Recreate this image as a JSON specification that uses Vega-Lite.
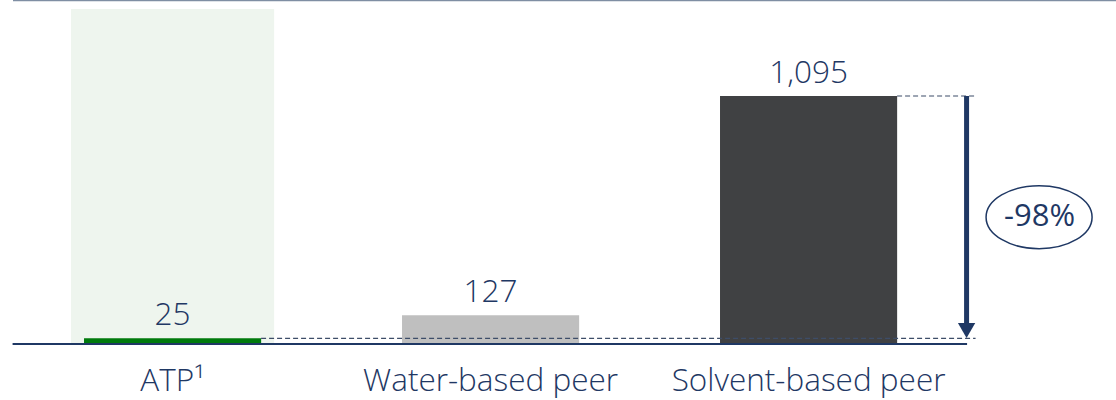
{
  "$schema": "https://vega.github.io/schema/vega-lite/v6.json",
  "width": 1103,
  "height": 335,
  "autosize": "none",
  "padding": {"left": 13, "top": 9, "right": 0, "bottom": 56},
  "background": "white",
  "config": {"view": {"stroke": null}, "font": "Open Sans"},
  "data": {
    "values": [
      {"category": "ATP¹", "value": 25, "label": "25"},
      {"category": "Water-based peer", "value": 127, "label": "127"},
      {"category": "Solvent-based peer", "value": 1095, "label": "1,095"}
    ]
  },
  "encoding": {
    "x": {
      "field": "category",
      "type": "nominal",
      "sort": null,
      "title": null,
      "scale": {
        "domain": ["ATP¹", "Water-based peer", "Solvent-based peer"],
        "paddingInner": 0.443,
        "paddingOuter": 0.4558,
        "align": 0.245
      },
      "axis": {
        "domain": false,
        "ticks": false,
        "labelAngle": 0,
        "labelFont": "Open Sans",
        "labelFontSize": 31.5,
        "labelFontWeight": 300,
        "labelColor": "#1f3864",
        "labelBaseline": "alphabetic",
        "labelPadding": 46,
        "labelLimit": 0
      }
    },
    "y": {
      "type": "quantitative",
      "scale": {"domain": [0, 1479], "nice": false, "zero": true},
      "axis": null
    }
  },
  "layer": [
    {
      "transform": [{"filter": "datum.category === 'ATP¹'"}],
      "mark": {"type": "bar", "color": "#eef5ee", "width": {"band": 1.147}},
      "encoding": {"y": {"datum": 1479}}
    },
    {
      "mark": {"type": "bar"},
      "encoding": {
        "y": {"field": "value"},
        "color": {
          "field": "category",
          "sort": null,
          "legend": null,
          "scale": {"range": ["#007a0c", "#bfbfbf", "#404143"]}
        }
      }
    },
    {
      "data": {"values": [{"yv": 25}]},
      "mark": {"type": "rule", "strokeWidth": 1.2, "color": "#3d4d68", "strokeDash": [5, 3], "xOffset": 88.5, "x2Offset": 167},
      "encoding": {
        "x": {"datum": "ATP¹"},
        "x2": {"datum": "Solvent-based peer"},
        "y": {"field": "yv", "type": "quantitative"}
      }
    },
    {
      "data": {"values": [{"yv": 0}]},
      "mark": {"type": "rule", "strokeWidth": 2, "color": "#1f3864", "xOffset": -160, "x2Offset": 158.5},
      "encoding": {
        "x": {"datum": "ATP¹"},
        "x2": {"datum": "Solvent-based peer"},
        "y": {"field": "yv", "type": "quantitative"}
      }
    },
    {
      "data": {"values": [{"yv": 1095}]},
      "mark": {"type": "rule", "strokeWidth": 1.2, "color": "#3d4d68", "strokeDash": [5, 3], "xOffset": 88.5, "x2Offset": 167},
      "encoding": {
        "x": {"datum": "Solvent-based peer"},
        "x2": {"datum": "Solvent-based peer"},
        "y": {"field": "yv", "type": "quantitative"}
      }
    },
    {
      "data": {"values": [{"yv": 1516}]},
      "mark": {"type": "rule", "strokeWidth": 1.5, "color": "#7f8ea3"},
      "encoding": {
        "x": {"value": 0},
        "x2": {"value": "width"},
        "y": {"field": "yv", "type": "quantitative"}
      }
    },
    {
      "data": {"values": [{"from": 1095, "to": 75}]},
      "mark": {"type": "rule", "strokeWidth": 5, "color": "#1f3864", "xOffset": 158},
      "encoding": {
        "x": {"datum": "Solvent-based peer"},
        "y": {"field": "from", "type": "quantitative"},
        "y2": {"field": "to"}
      }
    },
    {
      "data": {"values": [{"tip": 60}]},
      "mark": {"type": "point", "shape": "triangle-down", "size": 300, "filled": true, "opacity": 1, "color": "#1f3864", "xOffset": 158},
      "encoding": {
        "x": {"datum": "Solvent-based peer"},
        "y": {"field": "tip", "type": "quantitative"}
      }
    },
    {
      "mark": {"type": "text", "font": "Open Sans", "fontSize": 31.5, "fontWeight": 300, "color": "#1f3864", "baseline": "alphabetic", "dy": -13},
      "encoding": {
        "y": {"field": "value"},
        "text": {"field": "label"}
      }
    },
    {
      "data": {"values": [{"pos": 560, "text": "-98%"}]},
      "mark": {"type": "point", "shape": "M-1,0A1,0.594 0 1,1 1,0A1,0.594 0 1,1 -1,0Z", "size": 11236, "filled": false, "opacity": 1, "strokeWidth": 1.5, "color": "#1f3864", "xOffset": 230.5},
      "encoding": {
        "x": {"datum": "Solvent-based peer"},
        "y": {"field": "pos", "type": "quantitative"}
      }
    },
    {
      "data": {"values": [{"pos": 560, "text": "-98%"}]},
      "mark": {"type": "text", "font": "Open Sans", "fontSize": 31, "color": "#1f3864", "baseline": "middle", "xOffset": 231},
      "encoding": {
        "x": {"datum": "Solvent-based peer"},
        "y": {"field": "pos", "type": "quantitative"},
        "text": {"field": "text"}
      }
    }
  ]
}
